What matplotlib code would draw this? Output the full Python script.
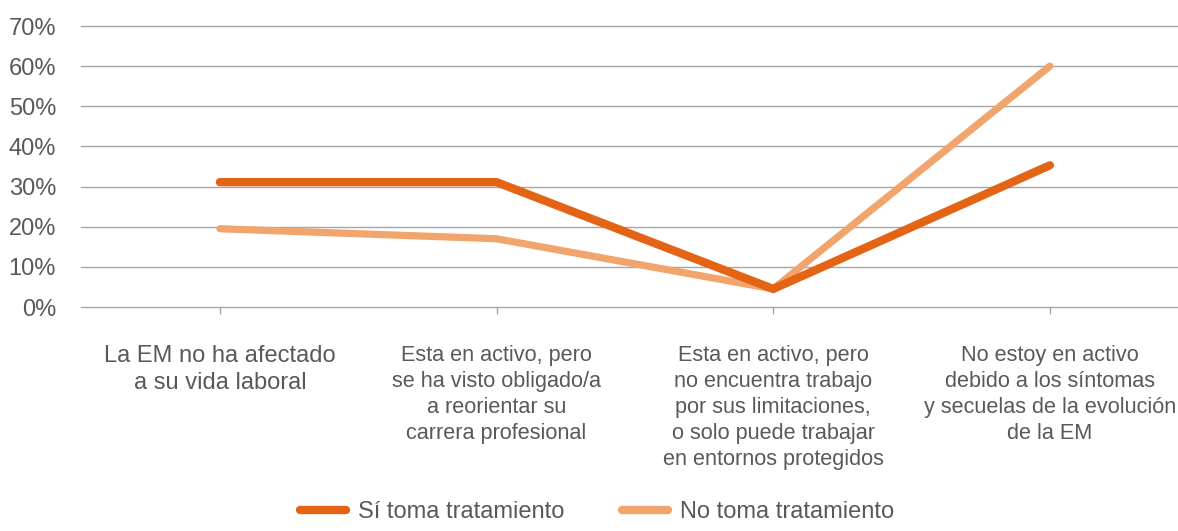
import matplotlib.pyplot as plt
import numpy as np

# situacion laboral segun tratamiento (% de respuestas)
categorias = [
    "La EM no ha afectado\na su vida laboral",
    "Esta en activo, pero\nse ha visto obligado/a\na reorientar su\ncarrera profesional",
    "Esta en activo, pero\nno encuentra trabajo\npor sus limitaciones,\no solo puede trabajar\nen entornos protegidos",
    "No estoy en activo\ndebido a los síntomas\ny secuelas de la evolución\nde la EM",
]
si_tratamiento = [31.1, 31.1, 4.5, 35.3]
no_tratamiento = [19.5, 17.0, 4.5, 60.0]
y_ticks = [0, 10, 20, 30, 40, 50, 60, 70]

plt.rcParams['font.family'] = ['Liberation Sans', 'DejaVu Sans']
text_color = '#595959'
grid_color = '#a6a6a6'

fig = plt.figure(figsize=(11.78, 5.31), dpi=100)
ax = fig.add_axes([81 / 1178, (531 - 307) / 531, 1 - 81 / 1178, (307 - 26) / 531])

x = np.arange(len(categorias))
ax.plot(x, si_tratamiento, color='#E36414', lw=6.0, solid_capstyle='round',
        solid_joinstyle='miter', label='Sí toma tratamiento', zorder=3)
ax.plot(x, no_tratamiento, color='#F2A46D', lw=5.2, solid_capstyle='round',
        solid_joinstyle='miter', label='No toma tratamiento', zorder=2)

ax.set_ylim(0, 70)
ax.set_xlim(-0.502, 3.463)
ax.set_yticks(y_ticks)
ax.set_yticklabels([f'{v}%' for v in y_ticks])
ax.set_xticks(x)
ax.set_xticklabels(categorias)

for t in y_ticks:
    ax.axhline(t, color=grid_color, lw=1.0, zorder=1, clip_on=False)

for s in ax.spines.values():
    s.set_visible(False)

ax.tick_params(axis='y', length=0, pad=18, labelsize=17, labelcolor=text_color)
ax.tick_params(axis='x', length=5, width=1.0, color=grid_color, pad=22,
               labelcolor=text_color)
# first label is set a bit larger than the rest
for i, lbl in enumerate(ax.get_xticklabels()):
    lbl.set_verticalalignment('top')
    if i == 0:
        lbl.set_fontsize(17)
        lbl.set_linespacing(1.3)
    else:
        lbl.set_fontsize(15.6)
        lbl.set_linespacing(1.32)

leg = fig.legend(loc='lower center', bbox_to_anchor=(0.507, -0.025), ncol=2,
                 frameon=False, fontsize=17, handlelength=1.95, handletextpad=0.5,
                 columnspacing=2.45, labelcolor=text_color)
for h in leg.get_lines():
    h.set_solid_capstyle('round')
    h.set_linewidth(6)

fig.savefig('out.png', dpi=100, facecolor='white')
